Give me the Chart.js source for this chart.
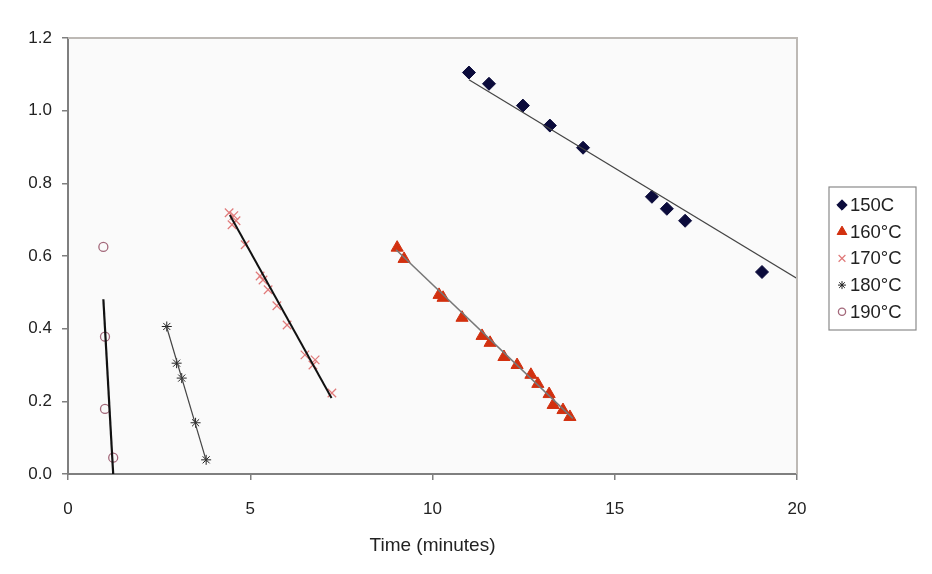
<!DOCTYPE html>
<html>
<head>
<meta charset="utf-8">
<script src="https://cdn.jsdelivr.net/npm/chart.js@4/dist/chart.umd.min.js"></script>
<style>
  html, body { margin: 0; padding: 0; background: #fff; }
  #wrap { width: 932px; height: 574px; }
</style>
</head>
<body>
<div id="wrap"><canvas id="graphique"></canvas></div>
<script>
// Données
const series = ['150C', '160°C', '170°C', '180°C', '190°C'];

const temps150 = [11.0, 11.55, 12.48, 13.22, 14.13, 16.02, 16.43, 16.93, 19.04];
const valeurs150 = [1.105, 1.074, 1.014, 0.959, 0.898, 0.763, 0.730, 0.697, 0.556];

const temps160 = [9.03, 9.22, 10.18, 10.29, 10.81, 11.36, 11.58, 11.96, 12.32, 12.70, 12.89, 13.20, 13.31, 13.58, 13.77];
const valeurs160 = [0.623, 0.592, 0.493, 0.485, 0.430, 0.380, 0.361, 0.322, 0.300, 0.273, 0.248, 0.220, 0.190, 0.176, 0.157];

const temps170 = [4.42, 4.55, 4.61, 4.50, 4.86, 5.27, 5.35, 5.49, 5.73, 6.01, 6.50, 6.78, 6.72, 7.24];
const valeurs170 = [0.719, 0.711, 0.697, 0.686, 0.631, 0.545, 0.534, 0.507, 0.463, 0.410, 0.328, 0.314, 0.300, 0.223];

const temps180 = [2.71, 2.98, 3.12, 3.50, 3.79];
const valeurs180 = [0.406, 0.305, 0.264, 0.141, 0.039];

const temps190 = [0.97, 1.015, 1.015, 1.24];
const valeurs190 = [0.625, 0.378, 0.179, 0.045];

// Droites de tendance (extrémités)
const tendance150X = [11.0, 20.0], tendance150Y = [1.085, 0.538];
const tendance160X = [9.0, 13.85], tendance160Y = [0.617, 0.153];
const tendance170X = [4.44, 7.23], tendance170Y = [0.713, 0.209];
const tendance180X = [2.69, 3.8], tendance180Y = [0.41, 0.034];
const tendance190X = [0.97, 1.24], tendance190Y = [0.481, 0.0];

const ticksX = [0, 5, 10, 15, 20];
const ticksY = [0, 0.2, 0.4, 0.6, 0.8, 1.0, 1.2];

function points(xs, ys) {
    return xs.map((x, i) => ({ x: x, y: ys[i] }));
}

const styles = [
    { pointStyle: 'rectRot', radius: 6.5, bg: '#0b0b3b', border: '#0b0b3b', bw: 1 },
    { pointStyle: 'triangle', radius: 7, bg: '#d2300f', border: '#d2300f', bw: 1 },
    { pointStyle: 'crossRot', radius: 6, bg: '#e07a7a', border: '#e07a7a', bw: 1.2 },
    { pointStyle: 'star', radius: 5, bg: '#222', border: '#222', bw: 1 },
    { pointStyle: 'circle', radius: 4.5, bg: 'rgba(0,0,0,0)', border: '#a3687a', bw: 1.3 }
];

const tendances = [
    { x: tendance150X, y: tendance150Y, color: '#444', width: 1.2 },
    { x: tendance160X, y: tendance160Y, color: '#777', width: 1.5 },
    { x: tendance170X, y: tendance170Y, color: '#111', width: 2 },
    { x: tendance180X, y: tendance180Y, color: '#444', width: 1.2 },
    { x: tendance190X, y: tendance190Y, color: '#111', width: 2.2 }
];

const nuages = [
    points(temps150, valeurs150),
    points(temps160, valeurs160),
    points(temps170, valeurs170),
    points(temps180, valeurs180),
    points(temps190, valeurs190)
];

const datasets = [];
nuages.forEach(function (d, i) {
    const s = styles[i];
    datasets.push({
        type: 'scatter',
        label: series[i],
        data: d,
        pointStyle: s.pointStyle,
        pointRadius: s.radius,
        backgroundColor: s.bg,
        borderColor: s.border,
        borderWidth: s.bw,
        order: 1
    });
});
tendances.forEach(function (t, i) {
    datasets.push({
        type: 'line',
        label: 'tendance ' + series[i],
        data: points(t.x, t.y),
        borderColor: t.color,
        borderWidth: t.width,
        pointRadius: 0,
        fill: false,
        order: 0
    });
});

// Fond de la zone de tracé + bordure haute/droite + légende encadrée
const decor = {
    id: 'decor',
    beforeDraw(chart) {
        const { ctx, chartArea: a } = chart;
        ctx.save();
        ctx.fillStyle = '#fafafa';
        ctx.fillRect(a.left, a.top, a.right - a.left, a.bottom - a.top);
        ctx.restore();
    },
    afterDraw(chart) {
        const { ctx, chartArea: a } = chart;
        ctx.save();
        ctx.strokeStyle = '#bdb9b5';
        ctx.lineWidth = 2;
        ctx.beginPath();
        ctx.moveTo(a.left, a.top);
        ctx.lineTo(a.right, a.top);
        ctx.lineTo(a.right, a.bottom);
        ctx.stroke();

        // légende
        const bx = a.right + 32, by = 187, bw = 87, bh = 143;
        ctx.fillStyle = '#fff';
        ctx.fillRect(bx, by, bw, bh);
        ctx.strokeStyle = '#8a8a8a';
        ctx.lineWidth = 1.2;
        ctx.strokeRect(bx, by, bw, bh);
        ctx.font = '18.5px "Liberation Sans", Arial, sans-serif';
        ctx.textBaseline = 'middle';
        series.forEach(function (nom, i) {
            const s = styles[i];
            const y = by + 18 + i * 26.7;
            ctx.fillStyle = s.bg;
            ctx.strokeStyle = s.border;
            ctx.lineWidth = s.bw;
            Chart.helpers.drawPoint(ctx, {
                pointStyle: s.pointStyle,
                radius: s.radius * 0.8,
                borderWidth: s.bw,
                rotation: 0
            }, bx + 13, y);
            ctx.fillStyle = '#222';
            ctx.fillText(nom, bx + 21, y + 1);
        });
        ctx.restore();
    }
};

const police = { family: '"Liberation Sans", Arial, sans-serif', size: 17 };

new Chart(document.getElementById('graphique').getContext('2d'), {
    data: { datasets: datasets },
    options: {
        responsive: true,
        maintainAspectRatio: false,
        animation: false,
        layout: { padding: { left: 0, right: 135, top: 38, bottom: 0 } },
        plugins: { legend: { display: false }, tooltip: { enabled: false } },
        scales: {
            x: {
                type: 'linear',
                min: 0, max: 20,
                afterBuildTicks: s => { s.ticks = ticksX.map(v => ({ value: v })); },
                afterFit: s => { s.height = 100; },
                ticks: { font: police, color: '#222', padding: 19 },
                grid: { drawOnChartArea: false, tickLength: 6, color: '#7f7f7f', lineWidth: 1.5 },
                border: { color: '#7f7f7f', width: 2 },
                title: {
                    display: true, text: 'Time (minutes)', color: '#222',
                    font: { family: police.family, size: 19 },
                    padding: { top: 4, bottom: 17 }
                }
            },
            y: {
                type: 'linear',
                min: 0, max: 1.2,
                afterBuildTicks: s => { s.ticks = ticksY.map(v => ({ value: v })); },
                afterFit: s => { s.width = 68; },
                ticks: { font: police, color: '#222', padding: 10, callback: v => v.toFixed(1) },
                grid: { drawOnChartArea: false, tickLength: 6, color: '#7f7f7f', lineWidth: 1.5 },
                border: { color: '#7f7f7f', width: 2 }
            }
        }
    },
    plugins: [decor]
});
</script>
</body>
</html>
